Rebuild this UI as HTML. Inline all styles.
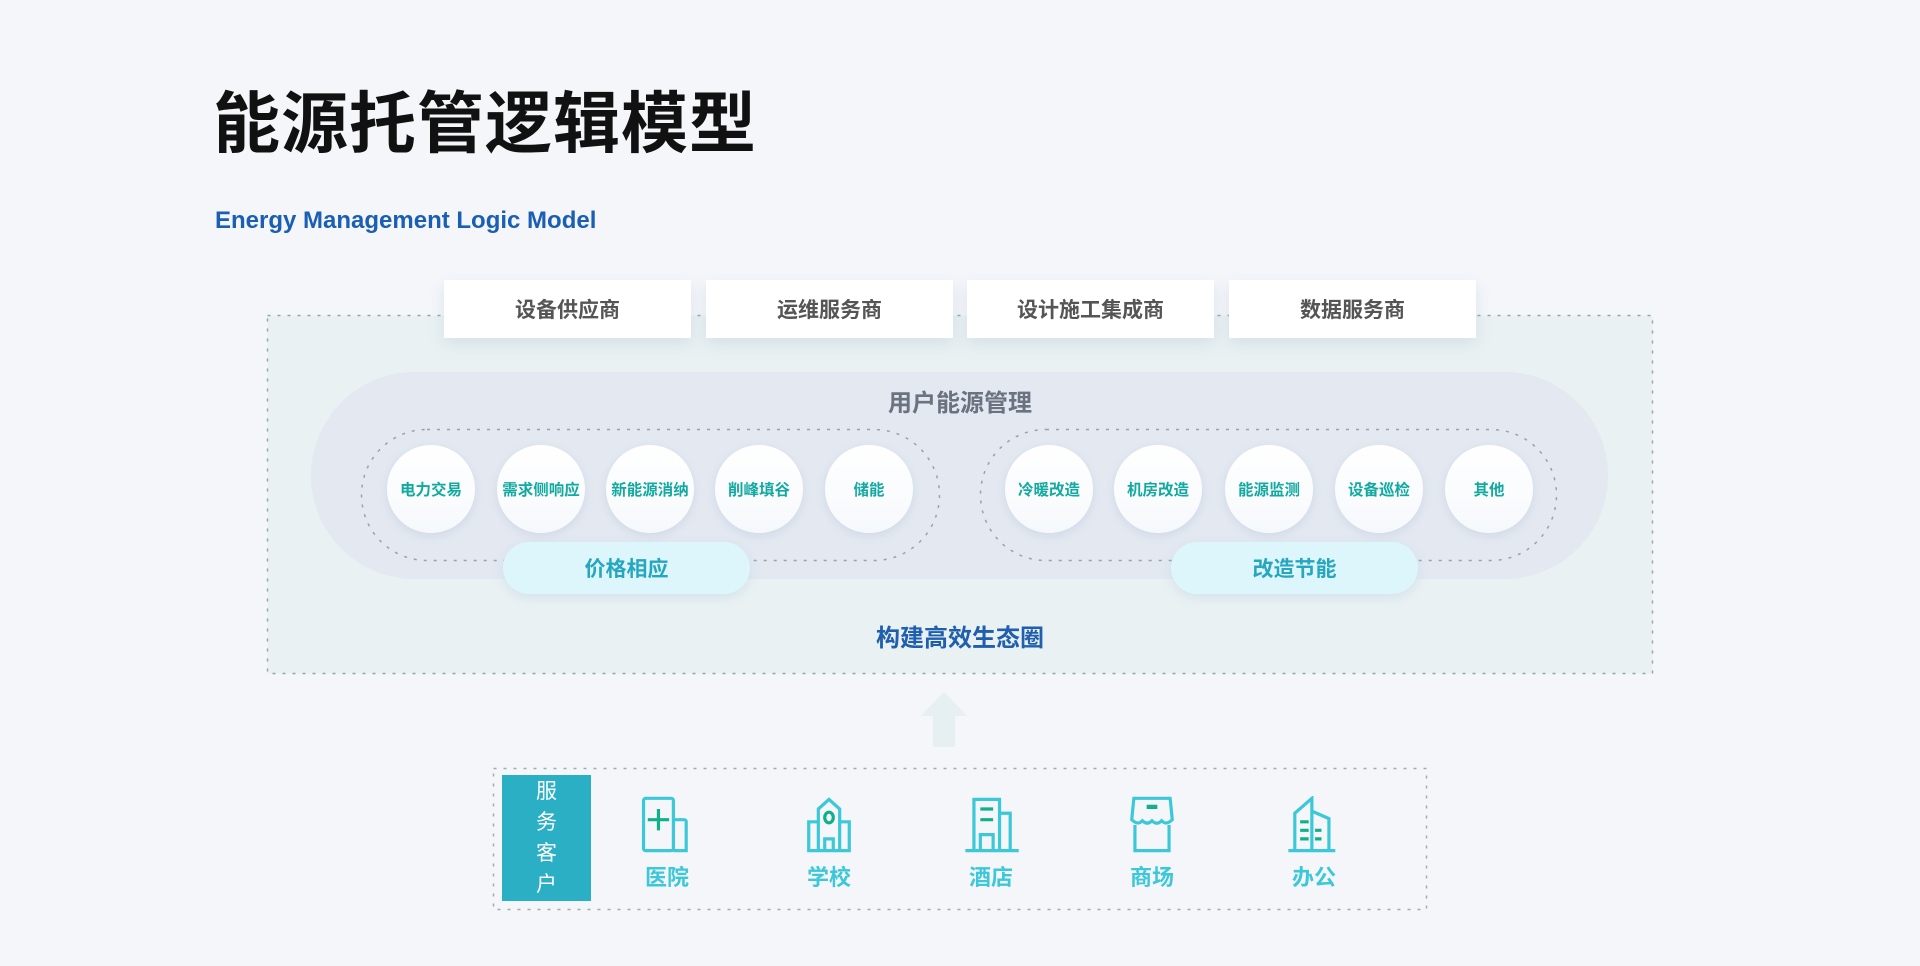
<!DOCTYPE html>
<html><head><meta charset="utf-8"><style>
*{margin:0;padding:0;box-sizing:border-box}
body{width:1920px;height:966px;background:#f4f6fa;position:relative;overflow:hidden;font-family:"Liberation Sans","Noto Sans CJK SC",sans-serif}
.a{position:absolute}
.title{left:213px;top:70px;font-size:67px;font-weight:bold;color:#111;letter-spacing:1px}
.sub{left:215px;top:207px;font-size:24px;font-weight:bold;color:#1a5fb4}
.top{top:280px;height:58px;width:247px;background:#fff;color:#555;font-size:21px;font-weight:bold;display:flex;align-items:center;justify-content:center;box-shadow:0 6px 14px rgba(160,180,200,.25)}
.c{width:88px;height:88px;border-radius:50%;background:linear-gradient(#fff,#f6f9fc);top:445px;display:flex;align-items:center;justify-content:center;color:#12a9a0;font-size:15.5px;font-weight:bold;box-shadow:0 3px 8px rgba(170,185,210,.3)}
.pl{top:542px;height:52px;width:247px;border-radius:26px;background:#dcf6fb;color:#27a6c0;font-size:21px;font-weight:bold;display:flex;align-items:center;justify-content:center;box-shadow:0 4px 10px rgba(170,200,220,.3)}
.ic{top:796px;width:64px;height:58px}
.lb{top:860px;width:100px;text-align:center;color:#3cc8d8;font-size:22px;font-weight:bold}
</style></head><body>
<div class="a title">能源托管逻辑模型</div>
<div class="a sub">Energy Management Logic Model</div>
<svg class="a" style="left:0;top:0" width="1920" height="966">
<rect x="267.5" y="315.5" width="1385" height="358" fill="#e9f1f3" stroke="#93a8ab" stroke-width="1.5" stroke-dasharray="3,7"/>
<rect x="311" y="372" width="1297" height="207" rx="103.5" fill="#e3e8f1"/>
<rect x="361.5" y="429.5" width="578" height="131" rx="65.5" fill="none" stroke="#97a4ad" stroke-width="1.5" stroke-dasharray="3,7"/>
<rect x="980.5" y="429.5" width="576" height="131" rx="65.5" fill="none" stroke="#97a4ad" stroke-width="1.5" stroke-dasharray="3,7"/>
<polygon points="944,692 967,716 955,716 955,747 933,747 933,716 921,716" fill="#e6eff2"/>
<rect x="493.5" y="768.5" width="933" height="141" fill="none" stroke="#9ab0ae" stroke-width="1.5" stroke-dasharray="3,7"/>
</svg>
<div class="a top" style="left:444px">设备供应商</div>
<div class="a top" style="left:706px">运维服务商</div>
<div class="a top" style="left:967px">设计施工集成商</div>
<div class="a top" style="left:1229px">数据服务商</div>
<div class="a" style="left:760px;width:400px;text-align:center;top:383px;font-size:24px;font-weight:bold;color:#6b7280">用户能源管理</div>
<div class="a c" style="left:387px">电力交易</div>
<div class="a c" style="left:497px">需求侧响应</div>
<div class="a c" style="left:606px">新能源消纳</div>
<div class="a c" style="left:715px">削峰填谷</div>
<div class="a c" style="left:825px">储能</div>
<div class="a c" style="left:1005px">冷暖改造</div>
<div class="a c" style="left:1114px">机房改造</div>
<div class="a c" style="left:1225px">能源监测</div>
<div class="a c" style="left:1335px">设备巡检</div>
<div class="a c" style="left:1445px">其他</div>
<div class="a pl" style="left:503px">价格相应</div>
<div class="a pl" style="left:1171px">改造节能</div>
<div class="a" style="left:760px;width:400px;text-align:center;top:618px;font-size:24px;font-weight:bold;color:#1f5fae">构建高效生态圈</div>
<div class="a" style="left:502px;top:775px;width:89px;height:126px;background:#2bafc4;color:#fff;font-size:21px;text-align:center;line-height:31px;padding-top:1px">服<br>务<br>客<br>户</div>
<svg class="a ic" style="left:635px" viewBox="0 0 60 54" fill="none" stroke="#3cc8d8" stroke-width="3"><rect x="8" y="2" width="28" height="49" rx="2"/><path d="M36 22h10a2 2 0 0 1 2 2v27H36"/><path d="M22 12v20M12 22h20" stroke="#12b08a"/></svg>
<svg class="a ic" style="left:797px" viewBox="0 0 60 54" fill="none" stroke="#3cc8d8" stroke-width="3"><path d="M20 51V12l10-9 10 9v39"/><path d="M20 24H11v27h38V24h-9"/><path d="M26 51V40h8v11"/><ellipse cx="30" cy="20" rx="4" ry="5" stroke="#12b08a"/></svg>
<svg class="a ic" style="left:959px" viewBox="0 0 60 54" fill="none" stroke="#3cc8d8" stroke-width="3"><path d="M14 51V3h24v48M38 16h10v35"/><path d="M6 51h50"/><path d="M20 51V36h12v15"/><path d="M20 12h12M20 22h12" stroke="#12b08a"/></svg>
<svg class="a ic" style="left:1120px" viewBox="0 0 60 54" fill="none" stroke="#3cc8d8" stroke-width="3"><path d="M13 2h34l2 20c-4 4-7 4-10 1-3 3-6 3-9 0-3 3-6 3-9 0-3 3-6 3-10-1z"/><path d="M14 27v24h32V27"/><path d="M25 10h10" stroke="#12b08a" stroke-width="4"/></svg>
<svg class="a ic" style="left:1282px" viewBox="0 0 60 54" fill="none" stroke="#3cc8d8" stroke-width="3"><path d="M12 51V16L28 2v49M28 14l16 7v30"/><path d="M6 51h44"/><path d="M17 24h8M17 32h8M17 40h8M31 32h6M31 40h6" stroke="#12b08a"/></svg>
<div class="a lb" style="left:617px">医院</div>
<div class="a lb" style="left:779px">学校</div>
<div class="a lb" style="left:941px">酒店</div>
<div class="a lb" style="left:1102px">商场</div>
<div class="a lb" style="left:1264px">办公</div>
</body></html>
